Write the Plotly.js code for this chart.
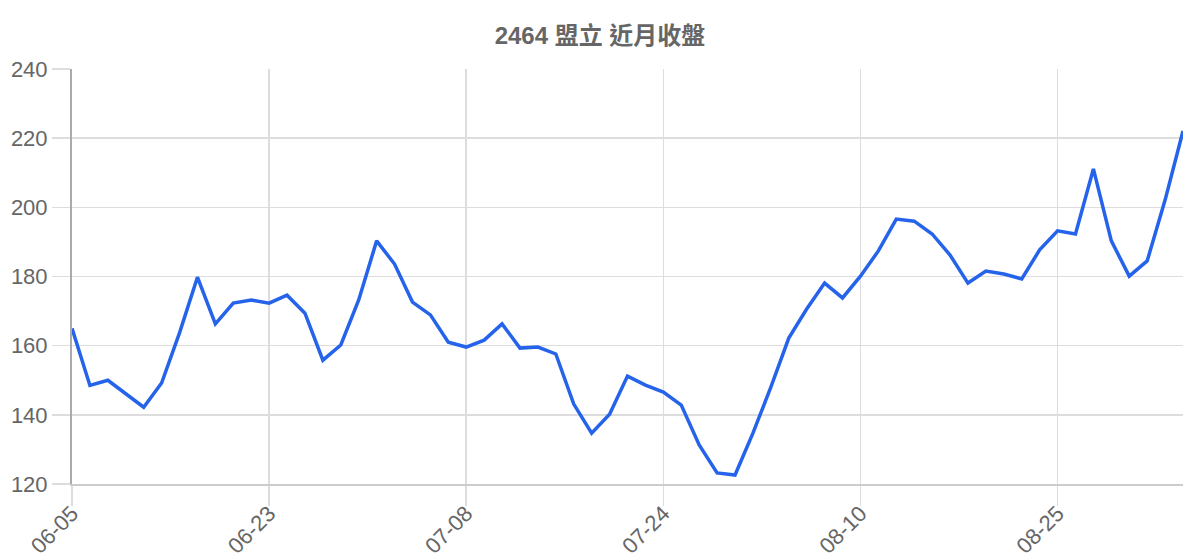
<!DOCTYPE html>
<html>
<head>
<meta charset="utf-8">
<script src="https://cdn.plot.ly/plotly-3.0.1.min.js"></script>
<style>
  html, body { margin: 0; padding: 0; background: #fff; }
  #chart { width: 1200px; height: 560px; }
</style>
</head>
<body>
<div id="chart"></div>
<script>
// trading days (MM-DD)
var dates = [
  '06-05','06-06','06-07','06-08','06-09','06-12','06-13','06-14','06-15','06-16','06-20',
  '06-23','06-24','06-25','06-26','06-29','06-30','07-01','07-02','07-03','07-06','07-07',
  '07-08','07-09','07-10','07-13','07-14','07-15','07-16','07-17','07-20','07-21','07-22',
  '07-24','07-27','07-28','07-29','07-30','07-31','08-03','08-04','08-05','08-06','08-07',
  '08-10','08-11','08-12','08-13','08-14','08-17','08-18','08-19','08-20','08-21','08-24',
  '08-25','08-26','08-27','08-28','08-31','09-01','09-02','09-03'
];

// closing prices
var closes = [
  165, 148.5, 150, 146, 142.2, 149.2, 163.7, 179.8, 166.3, 172.3, 173.2,
  172.3, 174.6, 169.4, 155.8, 160.2, 173.2, 190.3, 183.6, 172.6, 168.9, 161,
  159.6, 161.6, 166.3, 159.3, 159.6, 157.6, 143.1, 134.7, 140.2, 151.2, 148.6,
  146.6, 142.8, 131.3, 123.2, 122.6, 134.7, 148, 162.2, 170.6, 178.1, 173.8,
  180.1, 187.4, 196.6, 196, 192.3, 186.2, 178.1, 181.6, 180.7, 179.3, 187.7,
  193.2, 192.3, 211.1, 190.3, 180.1, 184.5, 202.1, 222.1
];

var tickLabels = ['06-05', '06-23', '07-08', '07-24', '08-10', '08-25'];

var fontFamily = 'Liberation Sans, Arial, Noto Sans CJK TC, sans-serif';

var data = [{
  type: 'scatter',
  mode: 'lines',
  x: dates,
  y: closes,
  line: { color: '#2563eb', width: 3.5 },
  hoverinfo: 'x+y'
}];

var layout = {
  width: 1200,
  height: 560,
  title: {
    text: '<b>2464 盟立 近月收盤</b>',
    x: 0.5,
    xanchor: 'center',
    y: 0.937,
    yanchor: 'middle',
    font: { family: fontFamily, size: 24, color: '#666' }
  },
  margin: { l: 72, r: 17, t: 69, b: 76 },
  showlegend: false,
  paper_bgcolor: '#fff',
  plot_bgcolor: '#fff',
  xaxis: {
    type: 'category',
    range: [0, dates.length - 1],
    tickmode: 'array',
    tickvals: tickLabels,
    ticktext: tickLabels,
    tickangle: -45,
    ticks: 'outside',
    ticklen: 20,
    tickcolor: '#ddd',
    tickwidth: 1.5,
    ticklabelstandoff: -14,
    showgrid: true,
    gridcolor: '#ddd',
    gridwidth: 1.5,
    showline: true,
    linecolor: '#ccc',
    linewidth: 2,
    zeroline: false,
    tickfont: { family: fontFamily, size: 22, color: '#666' }
  },
  yaxis: {
    range: [120, 240],
    dtick: 20,
    ticks: 'outside',
    ticklen: 18,
    tickcolor: '#ddd',
    tickwidth: 1.5,
    showgrid: true,
    gridcolor: '#ddd',
    gridwidth: 1.5,
    showline: true,
    linecolor: '#aaa',
    linewidth: 2,
    zeroline: false,
    tickfont: { family: fontFamily, size: 22, color: '#666' }
  }
};

Plotly.newPlot('chart', data, layout, { displayModeBar: false, staticPlot: true });
</script>
</body>
</html>
